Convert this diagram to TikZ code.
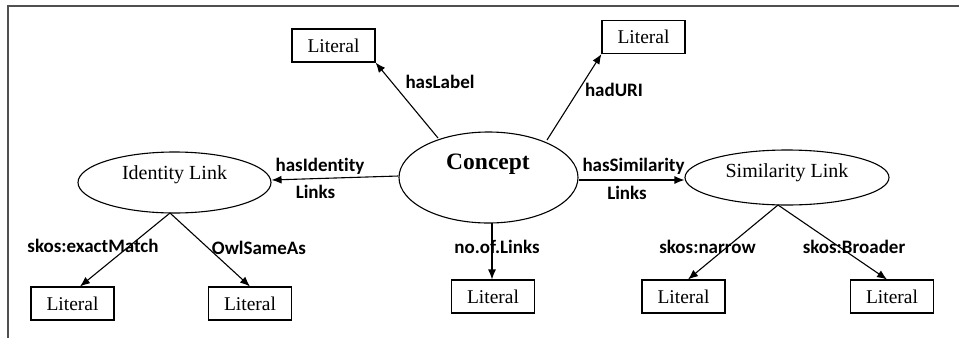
\documentclass[tikz,border=0pt]{standalone}
\usepackage{fontspec}
\setmainfont{Liberation Serif}
\newfontfamily\lblfont[Ligatures=NoCommon]{Carlito}
\usetikzlibrary{arrows.meta,shapes.geometric}
\definecolor{framegray}{HTML}{505050}
\tikzset{
  litbox/.style={draw, line width=1.1pt, minimum width=83pt, minimum height=33pt, inner sep=0pt, font=\fontsize{19.5}{19.5}\selectfont},
  classell/.style={draw, ellipse, line width=1.1pt, inner sep=0pt, font=\fontsize{19.5}{19.5}\selectfont},
  rel/.style={draw, line width=1.1pt, -{Latex[length=10pt,width=8pt]}},
  lbl/.style={font=\lblfont\bfseries\fontsize{19}{19}\selectfont, inner sep=0pt, anchor=center}
}
\begin{document}
\begin{tikzpicture}[x=1pt,y=-1pt]
\useasboundingbox (0,0) rectangle (959,338);
% page frame: top and left rules
\draw[framegray, line width=2pt] (7.5,338) -- (7.5,5.7) -- (959,5.7);

% ellipses
\node[classell, minimum width=179pt, minimum height=91pt] (concept) at (488.5,177.5) {};
\node[font=\fontsize{23.5}{23.5}\selectfont\bfseries] (concepttxt) at (488,164) {Concept};
\node[classell, minimum width=193pt, minimum height=61pt] (ident) at (174.5,182.5) {};
\node[font=\fontsize{20}{20}\selectfont] (identtxt) at (174.5,175) {Identity Link};
\node[classell, minimum width=204pt, minimum height=55pt] (simil) at (787,177.5) {};
\node[font=\fontsize{20}{20}\selectfont] (similtxt) at (787,173) {Similarity Link};

% literal boxes
\node[litbox] (litL) at (333.5,45.5) {Literal};
\node[litbox] (litU) at (643.5,37) {Literal};
\node[litbox] (lit1) at (72.5,303.5) {Literal};
\node[litbox] (lit2) at (250,303.5) {Literal};
\node[litbox] (lit3) at (493,296.5) {Literal};
\node[litbox] (lit4) at (683.5,296.5) {Literal};
\node[litbox] (lit5) at (892,296.5) {Literal};

% helper points on the outlines
\coordinate (cTL) at (438,138);
\coordinate (cTR) at (547,140);
\coordinate (cB) at (492,223);
\coordinate (iB) at (170,213);
\coordinate (sB) at (778,205);

% relations
\draw[rel] (cTL) -- (litL.south east);
\draw[rel] (cTR) -- (litU.south west);
\draw[rel] (concept.west |- 0,176) -- (ident.east |- 0,180);
\draw[rel] (concept.east |- 0,180) -- (simil.west |- 0,180);
\draw[rel] (cB) -- (cB |- lit3.north);
\draw[rel] (iB) -- (lit1.north -| 80,0);
\draw[rel] (iB) -- (lit2.north);
\draw[rel] (sB) -- (lit4.north -| 688,0);
\draw[rel] (sB) -- (lit5.north -| 887,0);

% relation labels
\node[lbl] (tHasLabel) at (440,82) {hasLabel};
\node[lbl] (tHadURI) at (614,90) {hadURI};
\node[lbl] (tHasId) at (320,166) {hasIdentity};
\node[lbl] (tIdLinks) at (315.5,192) {Links};
\node[lbl] (tHasSim) at (633.5,166) {hasSimilarity};
\node[lbl] (tSimLinks) at (627,193) {Links};
\node[lbl] (tNoLinks) at (497,247) {no.of.Links};
\node[lbl] (tExact) at (93,246) {skos:exactMatch};
\node[lbl] (tOwl) at (259,248) {OwlSameAs};
\node[lbl] (tNarrow) at (707.5,247) {skos:narrow};
\node[lbl] (tBroader) at (854,247) {skos:Broader};
\end{tikzpicture}
\end{document}
